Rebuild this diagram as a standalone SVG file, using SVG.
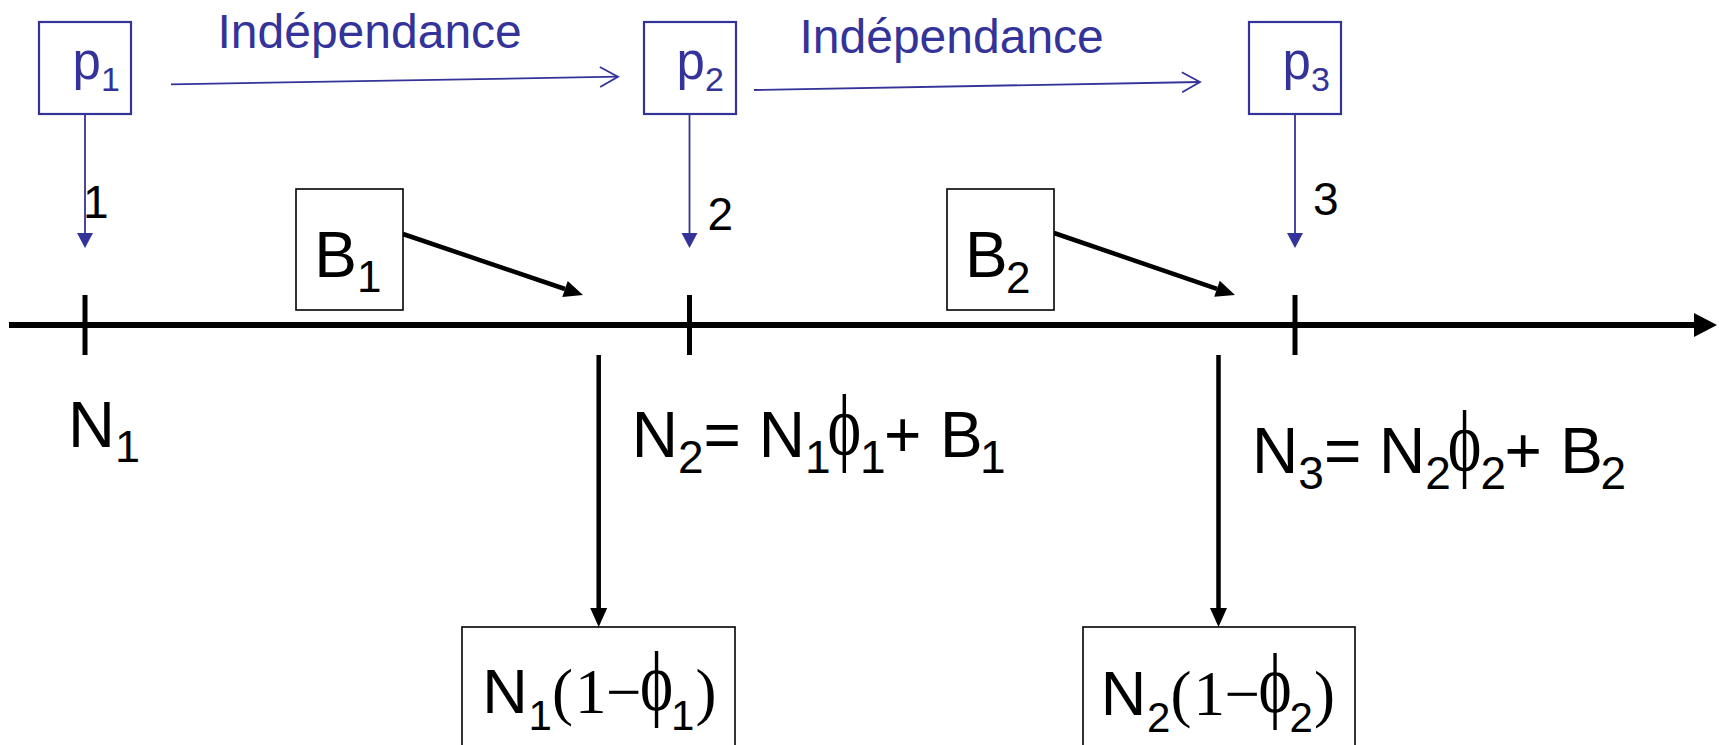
<svg xmlns="http://www.w3.org/2000/svg" width="1719" height="745" viewBox="0 0 1719 745">
<style>
  .bbox { fill: #ffffff; stroke: #333399; stroke-width: 2.2; }
  .kbox { fill: #ffffff; stroke: #000000; stroke-width: 1.6; }
  .sans { font-family: "Liberation Sans", Arial, sans-serif; }
  .serif { font-family: "Liberation Serif", "Times New Roman", "DejaVu Serif", serif; }
  .phi { font-family: "Liberation Serif", "Times New Roman", "DejaVu Serif", serif; text-anchor: middle; fill: #000000; }
  .blue { fill: #333399; }
  .blk { fill: #000000; }
  .bline { stroke: #333399; stroke-width: 1.8; fill: none; }
  .kline { stroke: #000000; fill: none; }
</style>
<defs>
  <marker id="openBlue" markerUnits="userSpaceOnUse" markerWidth="22" markerHeight="24" refX="18" refY="10" orient="auto" overflow="visible">
    <path d="M0,0 L18,10 L0,20" fill="none" stroke="#333399" stroke-width="1.8"/>
  </marker>
  <marker id="fillBlue" markerUnits="userSpaceOnUse" markerWidth="16" markerHeight="16" refX="0" refY="8" orient="auto" overflow="visible">
    <path d="M0,0 L15,8 L0,16 Z" fill="#333399"/>
  </marker>
  <marker id="fillBlack" markerUnits="userSpaceOnUse" markerWidth="20" markerHeight="18" refX="0" refY="8.5" orient="auto" overflow="visible">
    <path d="M0,0 L19,8.5 L0,17 Z" fill="#000000"/>
  </marker>
  <marker id="axisHead" markerUnits="userSpaceOnUse" markerWidth="24" markerHeight="25" refX="0" refY="12" orient="auto" overflow="visible">
    <path d="M0,0 L23,12 L0,24 Z" fill="#000000"/>
  </marker>
</defs>

<g id="connectors">
  <line class="kline" x1="9" y1="325" x2="1694" y2="325" stroke-width="6" marker-end="url(#axisHead)"/>
  <line class="kline" x1="85" y1="295" x2="85" y2="355" stroke-width="5"/>
  <line class="kline" x1="689.5" y1="295" x2="689.5" y2="355" stroke-width="5"/>
  <line class="kline" x1="1295" y1="295" x2="1295" y2="355" stroke-width="5"/>
  <line class="bline" x1="171" y1="84.3" x2="618" y2="76.7" marker-end="url(#openBlue)"/>
  <line class="bline" x1="754" y1="90" x2="1200" y2="82" marker-end="url(#openBlue)"/>
  <line class="bline" x1="85" y1="114" x2="85" y2="233" marker-end="url(#fillBlue)"/>
  <line class="bline" x1="689.5" y1="114" x2="689.5" y2="233" marker-end="url(#fillBlue)"/>
  <line class="bline" x1="1295" y1="114" x2="1295" y2="233" marker-end="url(#fillBlue)"/>
  <line class="kline" x1="403" y1="234" x2="565" y2="289" stroke-width="4.5" marker-end="url(#fillBlack)"/>
  <line class="kline" x1="1054" y1="233" x2="1217" y2="288.8" stroke-width="4.5" marker-end="url(#fillBlack)"/>
  <line class="kline" x1="598.7" y1="355" x2="598.7" y2="608" stroke-width="4.5" marker-end="url(#fillBlack)"/>
  <line class="kline" x1="1218.5" y1="355" x2="1218.5" y2="608" stroke-width="4.5" marker-end="url(#fillBlack)"/>
</g>

<g id="label-indep-1">
  <text class="sans blue" x="217.5" y="48" font-size="48">Indépendance</text>
</g>
<g id="label-indep-2">
  <text class="sans blue" x="799.5" y="53" font-size="48">Indépendance</text>
</g>

<g id="node-p1">
  <rect class="bbox" x="39" y="22" width="92" height="92"/>
  <text class="sans blue" x="72.6" y="78.6" font-size="51">p<tspan x="101" y="91" font-size="34">1</tspan></text>
</g>
<g id="node-p2">
  <rect class="bbox" x="644" y="22" width="92" height="92"/>
  <text class="sans blue" x="676.6" y="78.6" font-size="51">p<tspan x="705" y="91" font-size="34">2</tspan></text>
</g>
<g id="node-p3">
  <rect class="bbox" x="1249" y="22" width="92" height="92"/>
  <text class="sans blue" x="1282.6" y="78.6" font-size="51">p<tspan x="1311" y="91" font-size="34">3</tspan></text>
</g>

<g id="labels-steps">
  <text class="sans blk" x="83" y="218" font-size="46">1</text>
  <text class="sans blk" x="707.6" y="230" font-size="46">2</text>
  <text class="sans blk" x="1313" y="215" font-size="46">3</text>
</g>

<g id="node-B1">
  <rect class="kbox" x="296" y="189" width="107" height="121"/>
  <text class="sans blk" x="314.3" y="276.7" font-size="64">B<tspan x="357" y="292" font-size="44">1</tspan></text>
</g>
<g id="node-B2">
  <rect class="kbox" x="947" y="189" width="107" height="121"/>
  <text class="sans blk" x="965" y="276.7" font-size="64">B<tspan x="1006" y="292.7" font-size="44">2</tspan></text>
</g>

<g id="node-N1">
  <text class="sans blk" x="68" y="447" font-size="65">N<tspan x="115" y="462" font-size="45">1</tspan></text>
</g>

<g id="eq-N2">
  <text class="sans blk" x="631.7" y="457" font-size="64">N<tspan x="677.9" y="473" font-size="46">2</tspan><tspan x="703.5" y="457">=</tspan><tspan x="758.7" y="457">N</tspan><tspan x="804.9" y="473" font-size="46">1</tspan><tspan x="860" y="473" font-size="46">1</tspan><tspan x="884" y="457">+</tspan><tspan x="939.9" y="457">B</tspan><tspan x="980" y="473" font-size="46">1</tspan></text>
  <text class="phi" font-size="64" transform="translate(844.3,454) scale(1,1.35)">ϕ</text>
</g>

<g id="eq-N3">
  <text class="sans blk" x="1252.1" y="473" font-size="64">N<tspan x="1298.3" y="489" font-size="46">3</tspan><tspan x="1323.9" y="473">=</tspan><tspan x="1379.1" y="473">N</tspan><tspan x="1425.3" y="489" font-size="46">2</tspan><tspan x="1480.4" y="489" font-size="46">2</tspan><tspan x="1504.4" y="473">+</tspan><tspan x="1560.3" y="473">B</tspan><tspan x="1600.4" y="489" font-size="46">2</tspan></text>
  <text class="phi" font-size="64" transform="translate(1464.7,470) scale(1,1.35)">ϕ</text>
</g>

<g id="node-loss1">
  <rect class="kbox" x="462" y="627" width="273" height="140"/>
  <text class="sans blk" x="482.2" y="713" font-size="63">N<tspan x="528.5" y="730" font-size="42">1</tspan><tspan class="serif" x="552" y="713">(</tspan><tspan class="serif" x="575" y="713">1</tspan><tspan class="serif" x="606" y="713">−</tspan></text>
  <text class="phi" font-size="63" transform="translate(656.5,710) scale(1,1.35)">ϕ</text>
  <text class="sans blk" x="671" y="730" font-size="42">1<tspan class="serif" x="695.5" y="713" font-size="63">)</tspan></text>
</g>

<g id="node-loss2">
  <rect class="kbox" x="1083" y="627" width="272" height="140"/>
  <text class="sans blk" x="1100.7" y="715" font-size="63">N<tspan x="1147" y="732" font-size="42">2</tspan><tspan class="serif" x="1170.5" y="715">(</tspan><tspan class="serif" x="1193.5" y="715">1</tspan><tspan class="serif" x="1224.5" y="715">−</tspan></text>
  <text class="phi" font-size="63" transform="translate(1275,712) scale(1,1.35)">ϕ</text>
  <text class="sans blk" x="1289.5" y="732" font-size="42">2<tspan class="serif" x="1314" y="715" font-size="63">)</tspan></text>
</g>
</svg>
